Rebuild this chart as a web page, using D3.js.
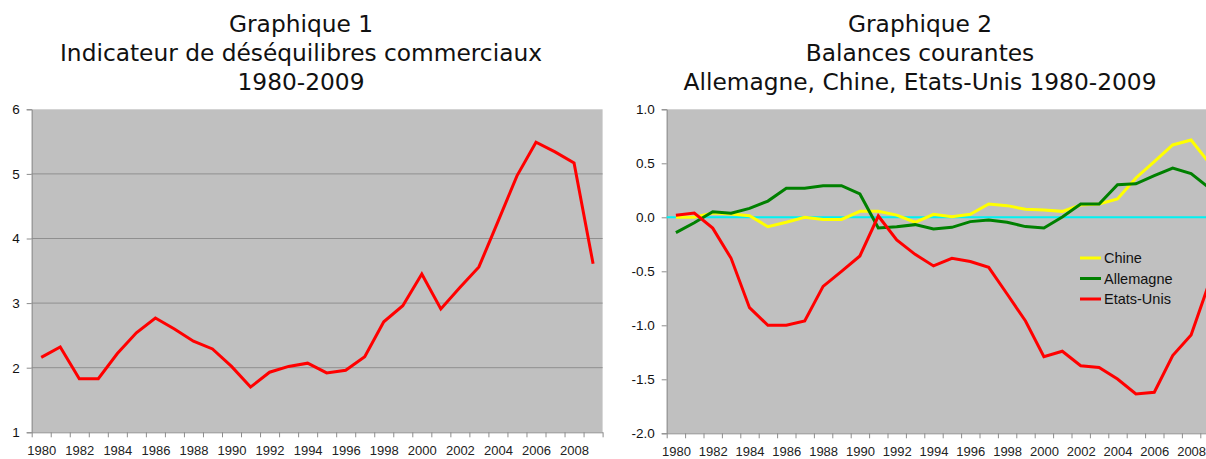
<!DOCTYPE html>
<html>
<head>
<meta charset="utf-8">
<script src="https://cdn.jsdelivr.net/npm/d3@7"></script>
<style>
  html, body { margin: 0; padding: 0; background: #fff; overflow: hidden; }
  svg { display: block; }
</style>
</head>
<body>
<div id="chart"></div>
<script>
'use strict';

// years 1980-2009
var years = [1980, 1981, 1982, 1983, 1984, 1985, 1986, 1987, 1988, 1989,
  1990, 1991, 1992, 1993, 1994, 1995, 1996, 1997, 1998, 1999,
  2000, 2001, 2002, 2003, 2004, 2005, 2006, 2007, 2008, 2009];

// Graphique 1
var indicateur = [2.16, 2.32, 1.83, 1.83, 2.22, 2.54, 2.77, 2.60, 2.41, 2.29,
  2.02, 1.70, 1.93, 2.02, 2.07, 1.92, 1.96, 2.17, 2.71, 2.96,
  3.45, 2.91, 3.24, 3.56, 4.26, 4.97, 5.49, 5.34, 5.17, 3.61];

// Graphique 2
var chine = [0.00, 0.00, 0.04, 0.03, 0.015, -0.087, -0.046, 0.00, -0.02, -0.02,
  0.055, 0.055, 0.02, -0.046, 0.028, 0.006, 0.028, 0.123, 0.108, 0.074,
  0.068, 0.055, 0.114, 0.123, 0.17, 0.364, 0.515, 0.67, 0.716, 0.50];
var allemagne = [-0.142, -0.05, 0.052, 0.037, 0.083, 0.15, 0.268, 0.268, 0.293, 0.293,
  0.216, -0.099, -0.088, -0.068, -0.108, -0.093, -0.04, -0.025, -0.046, -0.086,
  -0.099, 0.003, 0.123, 0.123, 0.302, 0.31, 0.385, 0.456, 0.404, 0.27];
var etatsUnis = [0.018, 0.04, -0.10, -0.38, -0.837, -1.0, -1.0, -0.96, -0.64, -0.50,
  -0.358, 0.012, -0.21, -0.343, -0.45, -0.38, -0.41, -0.463, -0.71, -0.96,
  -1.29, -1.24, -1.374, -1.39, -1.497, -1.636, -1.62, -1.28, -1.09, -0.60];

var seriesNames = ['Chine', 'Allemagne', 'Etats-Unis'];
var seriesColors = ['#ffff00', '#008000', '#ff0000'];

var leftTicks = [1, 2, 3, 4, 5, 6];
var rightTicks = [-2.0, -1.5, -1.0, -0.5, 0.0, 0.5, 1.0];

var title1 = ['Graphique 1', 'Indicateur de déséquilibres commerciaux', '1980-2009'];
var title2 = ['Graphique 2', 'Balances courantes', 'Allemagne, Chine, Etats-Unis 1980-2009'];

var W = 1206, H = 459;
var bg = '#c0c0c0', axisColor = '#8c8c8c', gridColor = '#8f8f8f';
var tickFont = '"Liberation Sans Narrow", "Arial Narrow", "Liberation Sans", sans-serif';
var labelFont = '"Liberation Sans", Arial, sans-serif';
var titleFont = '"DejaVu Sans", Verdana, sans-serif';

var svg = d3.select('#chart').append('svg')
  .attr('width', W)
  .attr('height', H);

function drawTitle(lines, cx) {
  svg.append('g').selectAll('text')
    .data(lines)
    .enter().append('text')
    .attr('x', cx)
    .attr('y', function (d, i) { return 32 + i * 29; })
    .attr('text-anchor', 'middle')
    .attr('font-family', titleFont)
    .attr('font-size', '23.3px')
    .attr('fill', '#111')
    .text(function (d) { return d; });
}

// Excel style labels use a plain hyphen for negatives
function hyphen(fmt) {
  return function (d) { return fmt(d).replace('\u2212', '-'); };
}

function drawPanel(opts) {
  var x = d3.scaleLinear().domain([1980, 2010]).range([opts.left, opts.right]);
  var y = d3.scaleLinear().domain(opts.yDomain).range([opts.bottom, opts.top]);
  var g = svg.append('g');

  g.append('rect')
    .attr('x', opts.left)
    .attr('y', opts.top)
    .attr('width', opts.right - opts.left)
    .attr('height', opts.bottom - opts.top)
    .attr('fill', bg);

  if (opts.grid) {
    g.append('g').selectAll('line')
      .data(opts.yTicks.slice(1, -1))
      .enter().append('line')
      .attr('x1', opts.left)
      .attr('x2', opts.right)
      .attr('y1', function (d) { return y(d); })
      .attr('y2', function (d) { return y(d); })
      .attr('stroke', gridColor)
      .attr('stroke-width', 1);
  }

  // y axis
  var yAxis = d3.axisLeft(y)
    .tickValues(opts.yTicks)
    .tickSize(5)
    .tickPadding(7)
    .tickFormat(hyphen(opts.yFormat));
  var ya = g.append('g')
    .attr('transform', 'translate(' + opts.left + ',0)')
    .call(yAxis);
  ya.selectAll('path, line').attr('stroke', axisColor);
  ya.selectAll('text')
    .attr('font-family', labelFont)
    .attr('font-size', '13.5px')
    .attr('fill', '#111');

  // x axis: ticks on year boundaries
  var xAxis = d3.axisBottom(x)
    .tickValues(d3.range(1980, 2011))
    .tickSize(5)
    .tickSizeOuter(0)
    .tickFormat('');
  var xa = g.append('g')
    .attr('transform', 'translate(0,' + opts.bottom + ')')
    .call(xAxis);
  xa.selectAll('path, line').attr('stroke', axisColor);

  // x labels centred in each year, every other year
  var labelAxis = d3.axisBottom(x)
    .tickValues(years.filter(function (d) { return d % 2 === 0; }).map(function (d) { return d + 0.5; }))
    .tickSize(0)
    .tickPadding(13)
    .tickFormat(function (d) { return Math.floor(d); });
  var la = g.append('g')
    .attr('transform', 'translate(0,' + opts.bottom + ')')
    .call(labelAxis);
  la.select('.domain').remove();
  la.selectAll('text')
    .attr('font-family', tickFont)
    .attr('font-size', '13px')
    .attr('fill', '#222');

  var line = d3.line()
    .x(function (d, i) { return x(years[i] + 0.5); })
    .y(function (d) { return y(d); });

  if (opts.zeroLine) {
    g.append('line')
      .attr('x1', opts.left)
      .attr('x2', opts.right)
      .attr('y1', y(0))
      .attr('y2', y(0))
      .attr('stroke', '#00f2f2')
      .attr('stroke-width', 2);
  }

  opts.series.forEach(function (s) {
    g.append('path')
      .datum(s.values)
      .attr('d', line)
      .attr('fill', 'none')
      .attr('stroke', s.color)
      .attr('stroke-width', 3)
      .attr('stroke-linejoin', 'miter');
  });

  return { x: x, y: y, g: g };
}

drawTitle(title1, 301);
drawTitle(title2, 920);

drawPanel({
  left: 31.7, right: 602.6, top: 109.3, bottom: 432.3,
  yDomain: [1, 6], yTicks: leftTicks, yFormat: d3.format('d'),
  grid: true, zeroLine: false,
  series: [{ values: indicateur, color: '#ff0000' }]
});

drawPanel({
  left: 666.7, right: 1218.7, top: 109.3, bottom: 433.3,
  yDomain: [-2, 1], yTicks: rightTicks, yFormat: d3.format('.1f'),
  grid: false, zeroLine: true,
  series: [
    { values: chine, color: seriesColors[0] },
    { values: allemagne, color: seriesColors[1] },
    { values: etatsUnis, color: seriesColors[2] }
  ]
});

// legend
var legend = svg.append('g').attr('transform', 'translate(1080,258)');
var items = legend.selectAll('g')
  .data(seriesNames)
  .enter().append('g')
  .attr('transform', function (d, i) { return 'translate(0,' + (i * 20.5) + ')'; });
items.append('line')
  .attr('x1', 0)
  .attr('x2', 21)
  .attr('stroke', function (d, i) { return seriesColors[i]; })
  .attr('stroke-width', 3);
items.append('text')
  .attr('x', 24)
  .attr('dy', '0.36em')
  .attr('font-family', labelFont)
  .attr('font-size', '14.5px')
  .attr('fill', '#111')
  .text(function (d) { return d; });
</script>
</body>
</html>
